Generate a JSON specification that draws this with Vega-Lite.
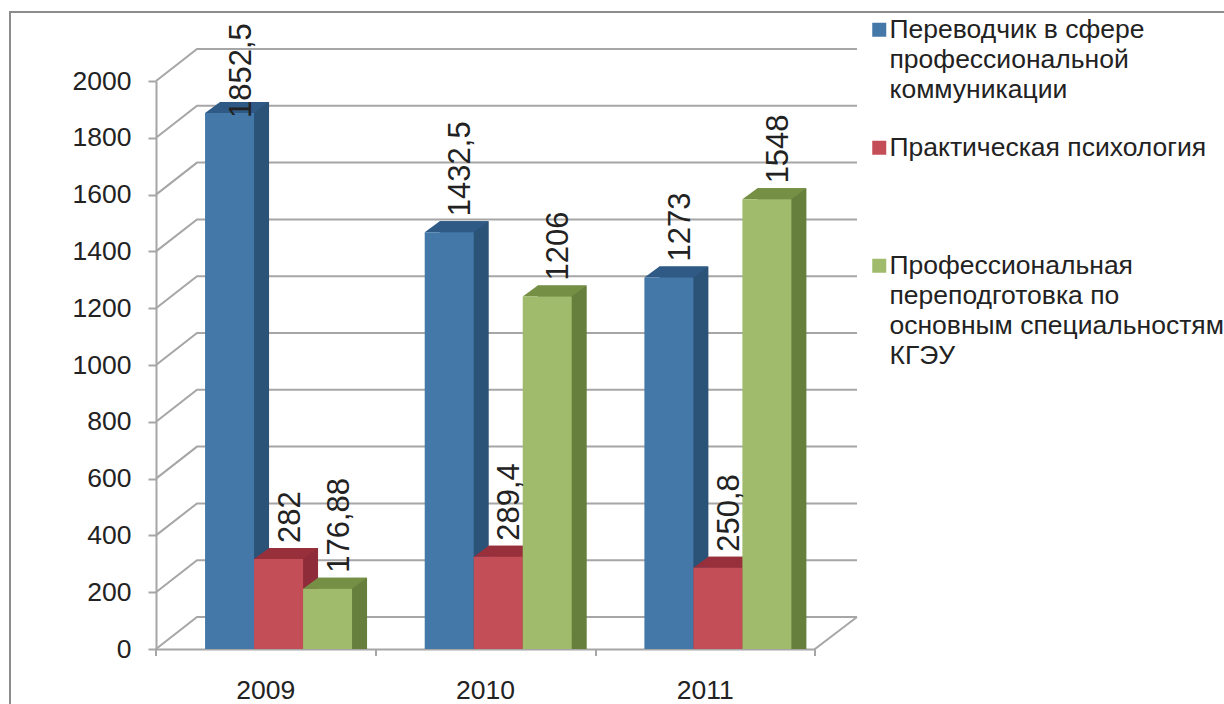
{
"$schema":"https://vega.github.io/schema/vega-lite/v6.json",
"width":1224,"height":700,
"autosize":{"type":"none"},
"padding":{"left":10,"top":12,"right":0,"bottom":0},
"background":"white",
"config":{"view":{"stroke":"#8c8c8c","strokeWidth":2},"font":"Liberation Sans"},
"datasets":{
"bars":[
{"year":"2009","series":"Переводчик в сфере профессиональной коммуникации","value":1852.5,"label":"1852,5","labelAt":1778},
{"year":"2009","series":"Практическая психология","value":282,"label":"282","labelAt":282},
{"year":"2009","series":"Профессиональная переподготовка по основным специальностям КГЭУ","value":176.88,"label":"176,88","labelAt":176.88},
{"year":"2010","series":"Переводчик в сфере профессиональной коммуникации","value":1432.5,"label":"1432,5","labelAt":1432.5},
{"year":"2010","series":"Практическая психология","value":289.4,"label":"289,4","labelAt":289.4},
{"year":"2010","series":"Профессиональная переподготовка по основным специальностям КГЭУ","value":1206,"label":"1206","labelAt":1206},
{"year":"2011","series":"Переводчик в сфере профессиональной коммуникации","value":1273,"label":"1273","labelAt":1273},
{"year":"2011","series":"Практическая психология","value":250.8,"label":"250,8","labelAt":250.8},
{"year":"2011","series":"Профессиональная переподготовка по основным специальностям КГЭУ","value":1548,"label":"1548","labelAt":1548}
],
"ticks":[{"tick":0},{"tick":200},{"tick":400},{"tick":600},{"tick":800},{"tick":1000},{"tick":1200},{"tick":1400},{"tick":1600},{"tick":1800},{"tick":2000}]
},
"resolve":{"scale":{"color":"independent","xOffset":"independent"}},
"layer":[
{"data":{"name":"ticks"},
 "mark":{"type":"point","shape":"M-3.295,0 L-2.885,-0.32 L3.715,-0.32","size":40000,"filled":false,"stroke":"#a6a6a6","strokeWidth":2,"opacity":1},
 "encoding":{
  "x":{"datum":"2010","type":"nominal","scale":{"domain":["2009","2010","2011"],"range":[146,805],"paddingInner":0.331,"paddingOuter":0.1655},
   "axis":{"title":null,"orient":"bottom","offset":-63,"ticks":false,"labelAngle":0,"domainColor":"#a6a6a6","domainWidth":2,"labelFontSize":26.5,"labelColor":"#222222","labelPadding":28,"labelFont":"Liberation Sans"}},
  "y":{"field":"tick","type":"quantitative","scale":{"domain":[0,2000],"range":[637,69],"nice":false},
   "axis":{"title":null,"orient":"left","offset":-146,"format":"d","values":[0,200,400,600,800,1000,1200,1400,1600,1800,2000],"grid":false,"domainColor":"#a6a6a6","domainWidth":2,"tickColor":"#a6a6a6","tickWidth":2,"tickSize":8,"labelFontSize":26.5,"labelColor":"#222222","labelPadding":17,"labelFont":"Liberation Sans","labelBaseline":"middle"}}
 }},
{"data":{"name":"ticks"},
 "transform":[{"filter":"datum.tick==0"}],
 "mark":{"type":"point","shape":"M3.295,0.07 L3.295,0 L3.715,-0.32 M-3.295,0 L-3.295,0.07 M-1.095,0 L-1.095,0.07 M1.105,0 L1.105,0.07","size":40000,"filled":false,"stroke":"#a6a6a6","strokeWidth":2,"opacity":1},
 "encoding":{"x":{"datum":"2010","type":"nominal"},"y":{"field":"tick","type":"quantitative"}}},
{"data":{"name":"bars"},
 "mark":{"type":"bar","yOffset":-21},
 "encoding":{
  "x":{"field":"year","type":"nominal"},
  "xOffset":{"field":"series","type":"nominal","sort":null,"scale":{"range":[27.7,174.7],"paddingInner":0,"paddingOuter":0}},
  "y":{"field":"value","type":"quantitative"},"y2":{"datum":0},
  "color":{"field":"series","type":"nominal","sort":null,"legend":null,"scale":{"range":["#2b5277","#8f2c39","#667f3c"]}}
 }},
{"data":{"name":"bars"},
 "mark":{"type":"point","shape":"M0.49,0 L0.79,-0.22 L0.49,-0.22 Z","size":10000,"filled":true,"opacity":1,"yOffset":-10},
 "encoding":{
  "x":{"field":"year","type":"nominal"},
  "xOffset":{"field":"series","type":"nominal","sort":null,"scale":{"range":[37.2,135.2],"padding":0}},
  "y":{"datum":0,"type":"quantitative"},
  "color":{"field":"series","type":"nominal","sort":null,"legend":null,"scale":{"range":["#2b5277","#8f2c39","#667f3c"]}}
 }},
{"data":{"name":"bars"},
 "mark":{"type":"point","shape":"M-0.49,0 L0.49,0 L0.79,-0.22 L-0.19,-0.22 Z","size":10000,"filled":true,"opacity":1,"yOffset":-10},
 "encoding":{
  "x":{"field":"year","type":"nominal"},
  "xOffset":{"field":"series","type":"nominal","sort":null,"scale":{"range":[37.2,135.2],"padding":0}},
  "y":{"field":"value","type":"quantitative"},
  "color":{"field":"series","type":"nominal","sort":null,"legend":null,"scale":{"range":["#2f5a85","#97303b","#758f45"]}}
 }},
{"data":{"name":"bars"},
 "mark":{"type":"bar","yOffset":-10},
 "encoding":{
  "x":{"field":"year","type":"nominal"},
  "xOffset":{"field":"series","type":"nominal","sort":null,"scale":{"range":[12.7,159.7],"paddingInner":0,"paddingOuter":0}},
  "y":{"field":"value","type":"quantitative"},"y2":{"datum":0},
  "color":{"field":"series","type":"nominal","sort":null,"scale":{"range":["#4478a8","#c44e58","#9fbb6b"]},
   "legend":{"title":null,"orient":"none","legendX":856,"legendY":4.5,"padding":0,"symbolType":"square","symbolSize":196,"symbolStrokeWidth":0,"labelFontSize":26.5,"labelColor":"#222222","labelFont":"Liberation Sans","labelLimit":400,"labelOffset":-3,"labelBaseline":"top","gridAlign":"all","rowPadding":1,
    "labelExpr":"datum.label=='Практическая психология'?datum.label:(indexof(datum.label,'Переводчик')==0?['Переводчик в сфере','профессиональной','коммуникации']:['Профессиональная','переподготовка по','основным специальностям','КГЭУ'])",
    "encoding":{"labels":{"lineHeight":{"value":30},"dy":{"value":-13}}}}}
 }},
{"data":{"name":"bars"},
 "mark":{"type":"text","angle":270,"align":"left","baseline":"middle","fontSize":31,"color":"#222222","yOffset":-26},
 "encoding":{
  "x":{"field":"year","type":"nominal"},
  "xOffset":{"field":"series","type":"nominal","sort":null,"scale":{"range":[49.2,147.2],"padding":0}},
  "y":{"field":"labelAt","type":"quantitative"},
  "text":{"field":"label"}
 }}
]
}
